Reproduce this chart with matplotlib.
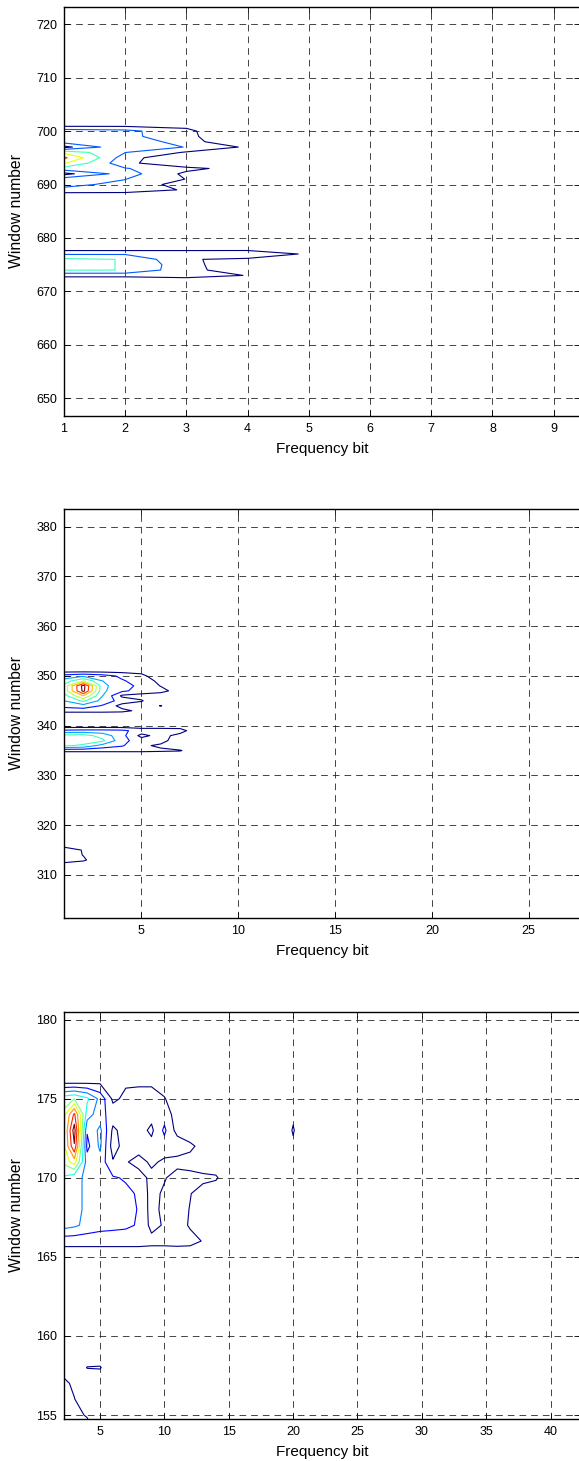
import numpy as np
import matplotlib.pyplot as plt
from matplotlib.colors import Normalize

plt.rcParams['font.family'] = ['Liberation Sans', 'DejaVu Sans']
plt.rcParams['lines.scale_dashes'] = False

# ---- panel 1 : frequency bits 1..10, windows 640..730
freq1 = np.arange(1, 11)
win1 = np.arange(640, 731)
rows1 = [701, 700, 699, 698, 697, 696, 695, 694, 693, 692, 691, 690, 689, 688,
         678, 677, 676, 675, 674, 673, 672]
vals1 = [
    [0.8, 0.8, 0.8, 0, 0, 0],
    [2.5, 2.3, 1.2, 0, 0, 0],
    [2.6, 2.3, 1.25, 0, 0, 0],
    [2.4, 2.86, 1.43, 0, 0, 0],
    [0.7, 2.87, 1.95, 0.83, 0, 0],
    [3.7, 2.02, 0.89, 0, 0, 0],
    [5.2, 1.44, 0, 0, 0, 0],
    [4.1, 1.3, 0, 0, 0, 0],
    [2.6, 2.06, 1.3, 0.49, 0, 0],
    [0.7, 2.46, 0.76, 0, 0, 0],
    [2.5, 2.02, 0.97, 0, 0, 0],
    [2.2, 1.8, 0.47, 0, 0, 0],
    [1.8, 1.7, 0.87, 0, 0, 0],
    [0.3, 0.3, 0.3, 0, 0, 0],
    [0.5, 0.5, 0.5, 0.5, 0.3, 0],
    [1.9, 1.9, 1.9, 1.95, 0.8, 0],
    [3.2, 2.96, 1.08, 0.78, 0, 0],
    [3.2, 2.96, 1.36, 0.16, 0, 0],
    [3.05, 2.99, 1.28, 0.46, 0, 0],
    [1.3, 1.3, 1.6, 0.95, 0, 0],
    [0.2, 0.2, 0.2, 0.2, 0, 0],
]
levels1 = [1, 2, 3, 4, 5]

# ---- panel 2 : frequency bits 1..30, windows 295..390
freq2 = np.arange(1, 31)
win2 = np.arange(295, 391)
rows2 = [351, 350, 349, 348, 347, 346, 345, 344, 343,
         340, 339, 338, 337, 336, 335,
         316, 315, 314, 313, 312]
vals2 = [
    [0.6, 0.6, 0.6, 0.6, 0.6, 0, 0, 0],
    [2.4, 2.8, 2.4, 1.8, 1.3, 0.2, 0, 0],
    [3.4, 5.0, 3.0, 2.1, 1.6, 0.7, 0, 0],
    [4.3, 8.4, 3.3, 2.3, 1.8, 0.95, 0, 0],
    [4.3, 8.3, 3.2, 2.2, 1.6, 1.4, 0.4, 0],
    [3.6, 6.0, 3.0, 0.8, 0.6, 0.3, 0, 0],
    [3.0, 4.2, 2.6, 1.6, 1.1, 0, 0, 0],
    [2.3, 2.6, 1.9, 0.6, 0.3, 1.05, 0, 0],
    [1.4, 1.4, 1.4, 1.3, 0.7, 0, 0, 0],
    [0.3, 0.3, 0.3, 0.3, 0.3, 0.3, 0.3, 0],
    [2.2, 2.3, 2.3, 2.2, 1.6, 1.6, 1.5, 0],
    [4.3, 4.4, 3.6, 2.3, 0.7, 1.4, 0.6, 0],
    [4.5, 4.6, 4.2, 2.3, 1.5, 1.4, 0.3, 0],
    [4.2, 3.8, 2.6, 2.1, 1.2, 0.8, 0, 0],
    [1.3, 1.3, 1.3, 1.3, 1.3, 1.2, 1.1, 0],
    [0.4, 0.3, 0],
    [1.8, 0.9, 0],
    [1.8, 0.95, 0],
    [1.8, 1.2, 0],
    [0.3, 0.2, 0],
]
levels2 = [1, 2, 3, 4, 5, 6, 7, 8]

# ---- panel 3 : frequency bits 1..45, windows 150..185
freq3 = np.arange(1, 46)
win3 = np.arange(150, 186)
rows3 = [176, 175, 174, 173, 172, 171, 170, 169, 168, 167, 166, 165,
         158, 157, 156, 155, 154]
vals3 = [
    [0.9, 0.9, 0.9, 0.9, 0.9, 0.9, 0.9, 0.9, 0.9, 0.3, 0, 0, 0, 0, 0],
    [4.3, 4.55, 5.0, 4.2, 2.7, 0.8, 1.2, 1.3, 1.3, 1.1, 0, 0, 0, 0, 0],
    [4.5, 5.1, 8.2, 3.5, 2.4, 1.5, 1.4, 1.5, 1.3, 1.6, 0.5, 0, 0, 0, 0],
    [5.0, 5.0, 9.5, 2.1, 3.25, 0.8, 1.4, 1.4, 0.8, 2.2, 0.6, 0, 0, 0, 0],
    [4.8, 5.1, 8.9, 1.7, 3.2, 0.5, 1.5, 1.5, 1.3, 1.6, 1.7, 1.3, 0.5, 0, 0],
    [5.0, 5.1, 6.5, 2.5, 2.6, 1.1, 1.1, 0.6, 1.2, 0.8, 0.6, 0.5, 0.2, 0, 0],
    [3.5, 3.9, 3.3, 2.8, 2.15, 2.1, 1.9, 1.5, 0.7, 0.9, 1.5, 1.4, 1.3, 1.2, 0],
    [3.4, 3.6, 3.3, 2.8, 2.4, 2.3, 2.2, 1.9, 0.6, 1.2, 1.5, 1.05, 0.5, 0, 0],
    [3.4, 3.6, 3.3, 2.8, 2.4, 2.3, 2.3, 1.95, 0.6, 1.3, 1.5, 0.95, 0.3, 0, 0],
    [3.3, 3.5, 3.2, 2.7, 2.4, 2.3, 2.2, 1.9, 0.7, 1.1, 1.4, 0.9, 0.3, 0, 0],
    [1.38, 1.38, 1.38, 1.38, 1.38, 1.38, 1.38, 1.38, 1.3, 1.3, 1.35, 1.3, 0.95, 0, 0],
    [0.3, 0.3, 0.3, 0.3, 0.3, 0.3, 0.3, 0.3, 0.3, 0.3, 0.3, 0.3, 0.3, 0, 0],
    [0.3, 0.5, 0, 1.05, 1.1, 0],
    [1.5, 1.5, 0.7, 0, 0, 0],
    [1.5, 1.5, 1.05, 0, 0, 0],
    [1.5, 1.5, 1.3, 0.9, 0, 0],
    [1.5, 1.5, 1.5, 1.5, 0.5, 0],
]
spot3 = [(20, 172, 0.8), (20, 173, 1.1), (20, 174, 0.8)]
levels3 = [1, 2, 3, 4, 5, 6, 7, 8, 9]


def build(freq, win, rows, vals):
    z = np.zeros((len(win), len(freq)))
    for w, v in zip(rows, vals):
        z[list(win).index(w), :len(v)] = v
    return z


z1 = build(freq1, win1, rows1, vals1)
z2 = build(freq2, win2, rows2, vals2)
z3 = build(freq3, win3, rows3, vals3)
for f, w, v in spot3:
    z3[list(win3).index(w), list(freq3).index(f)] = v

fig = plt.figure(figsize=(5.79, 14.61), dpi=100)

W, H = 579.0, 1461.0
left = 64 / W
width = 516 / W
panels = [
    # (freq, win, z, levels, vmax, top px, bottom px, xlim, ylim, xticks, yticks)
    (freq1, win1, z1, levels1, 5.7, 7, 416, (1, 9.43), (646.7, 723.2),
     range(1, 10), range(650, 721, 10)),
    (freq2, win2, z2, levels2, 8, 509.3, 917.7, (1, 27.65), (301.4, 383.5),
     range(5, 26, 5), range(310, 381, 10)),
    (freq3, win3, z3, levels3, 9, 1011.7, 1419.3, (2.2, 42.29), (154.73, 180.5),
     range(5, 41, 5), range(155, 181, 5)),
]

for freq, win, z, lev, vmax, top, bot, xl, yl, xt, yt in panels:
    hpx = bot - top
    ax = fig.add_axes([left, 1 - bot / H, width, hpx / H])
    ax.contour(freq, win, z, levels=lev, cmap='jet',
               norm=Normalize(vmin=lev[0], vmax=vmax), linewidths=0.8)
    ax.set_xlim(*xl)
    ax.set_ylim(*yl)
    ax.set_xticks(list(xt))
    ax.set_yticks(list(yt))
    ax.grid(True, linestyle=(0, (4.8, 3.6)), color='0.15', linewidth=0.6)
    ax.set_axisbelow(True)
    ax.tick_params(direction='in', length=4, width=0.6, top=True, right=True,
                   labelsize=9, pad=5)
    for s in ax.spines.values():
        s.set_linewidth(1.0)
    ax.set_xlabel('Frequency bit', fontsize=11, va='center')
    ax.xaxis.set_label_coords(0.5, -33 / hpx)
    ax.set_ylabel('Window number', fontsize=11.3, va='center')
    ax.yaxis.set_label_coords(-(64 - 16.5) / 516, 0.5)

fig.savefig('out.png', dpi=100)
